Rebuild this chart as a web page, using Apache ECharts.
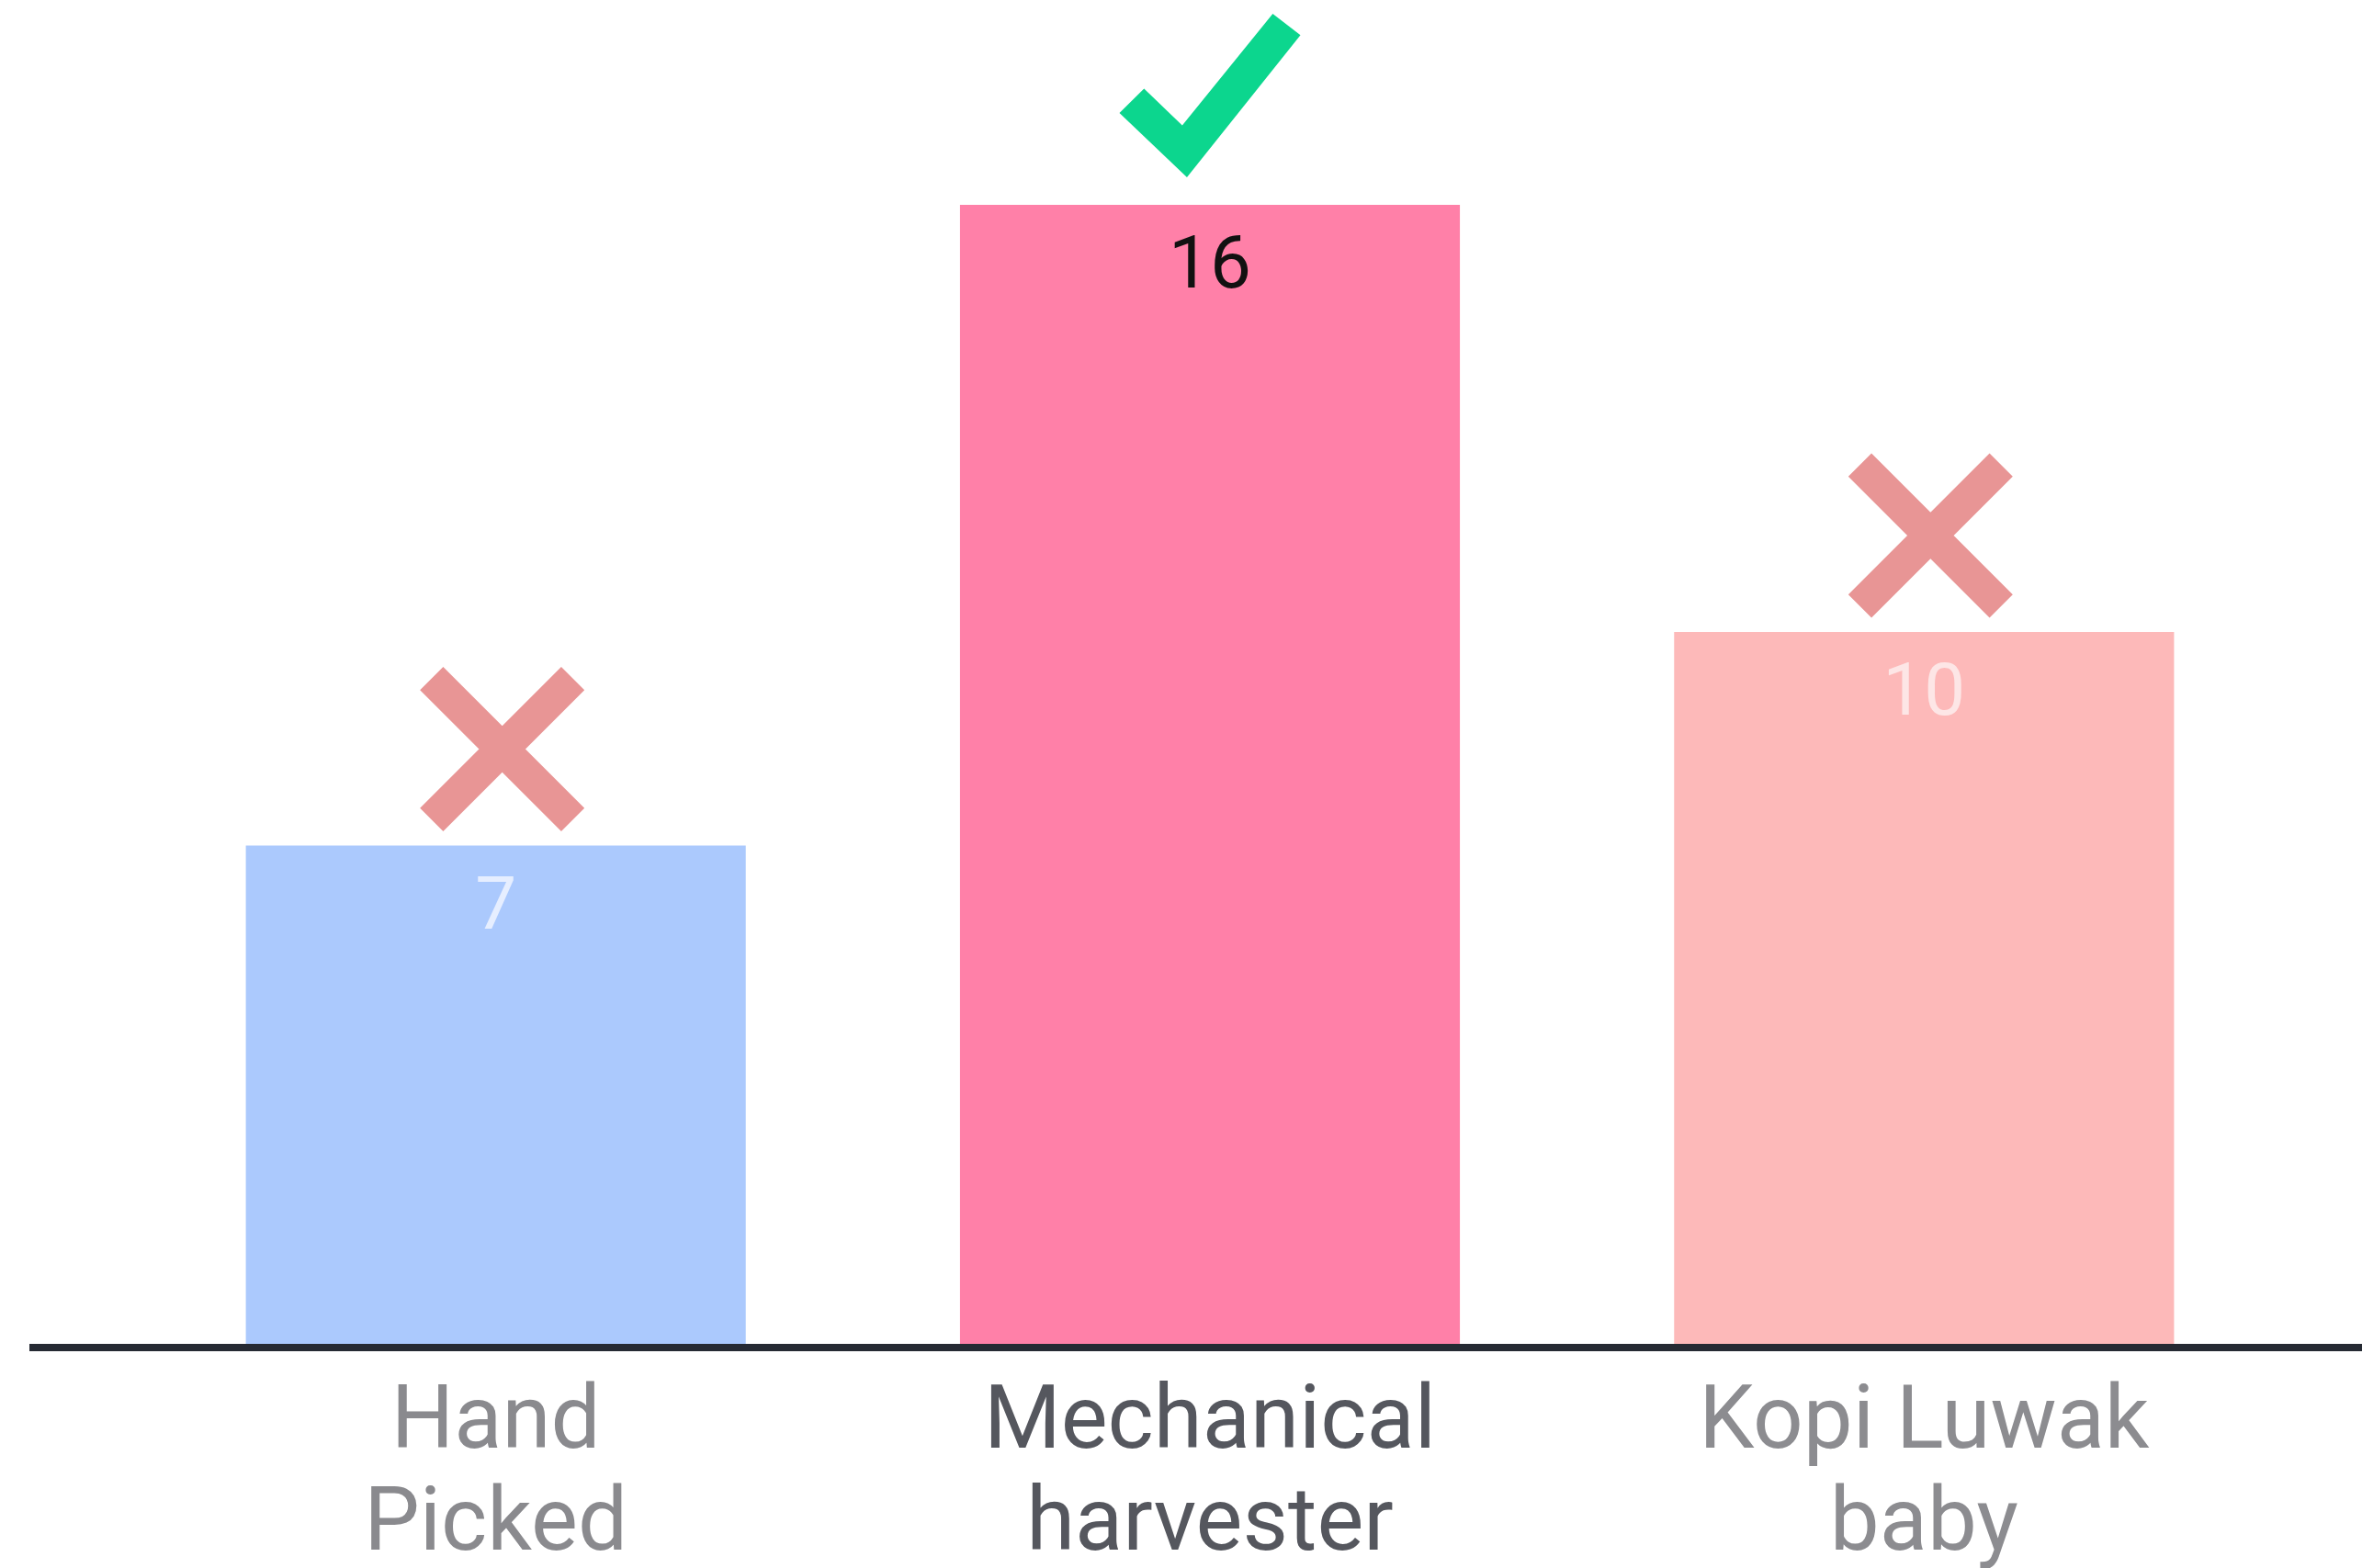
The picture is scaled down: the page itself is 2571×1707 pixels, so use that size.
<!DOCTYPE html>
<html>
<head>
<meta charset="utf-8">
<script src="https://cdn.jsdelivr.net/npm/echarts@6/dist/echarts.min.js"></script>
<style>
html,body{margin:0;padding:0;background:#fff;}
#chart{width:2571px;height:1707px;}
</style>
</head>
<body>
<div id="chart"></div>
<script>
// ---- data ----
const categories = ['Hand\nPicked', 'Mechanical\nharvester', 'Kopi Luwak\nbaby'];
const values = [7, 16, 10];
const verdicts = ['wrong', 'right', 'wrong'];

// ---- styles ----
const barColors = ['#abc9fd', '#ff80a8', '#fdb9b9'];
const valueLabelColors = ['#e6eeff', '#111111', '#fde6e6'];
const catLabelColors = ['#8a8a8e', '#55575e', '#8c8c90'];
const X_PATH = 'path://M0 14.1 L14.1 0 L100 85.9 L85.9 100 Z M85.9 0 L100 14.1 L14.1 100 L0 85.9 Z';
const CHECK_PATH = 'path://M0 60.7 L13.6 45.8 L34.7 68.2 L84.7 0 L100 13.1 L37.3 100 Z';

const chart = echarts.init(document.getElementById('chart'));

const barData = values.map((v, i) => ({
  value: v,
  itemStyle: { color: barColors[i] },
  label: { color: valueLabelColors[i] }
}));

const markData = values.map((v, i) => {
  const ok = verdicts[i] === 'right';
  return {
    value: [i, v],
    symbol: ok ? CHECK_PATH : X_PATH,
    symbolSize: ok ? [197, 178] : [179, 179],
    symbolOffset: ok ? [0, -119] : [7, -105],
    itemStyle: { color: ok ? '#0cd68e' : '#e89595', opacity: 1 }
  };
});

chart.setOption({
  animation: false,
  backgroundColor: '#ffffff',
  grid: { left: 151, right: 88, top: 223, bottom: 244, containLabel: false, outerBoundsMode: 'none' },
  xAxis: {
    type: 'category',
    data: categories,
    axisLine: { show: false },
    axisTick: { show: false },
    axisLabel: {
      margin: 33,
      fontFamily: 'Roboto',
      fontSize: 96,
      lineHeight: 111,
      color: (val, idx) => catLabelColors[idx]
    }
  },
  yAxis: {
    type: 'value',
    min: 0,
    max: 16,
    show: false,
    splitLine: { show: false }
  },
  series: [
    {
      type: 'bar',
      data: barData,
      barWidth: '70%',
      label: {
        show: true,
        position: 'insideTop',
        distance: 30,
        fontFamily: 'Roboto',
        fontSize: 80
      }
    },
    {
      type: 'scatter',
      data: markData,
      clip: false,
      z: 5
    }
  ],
  graphic: [
    {
      type: 'rect',
      shape: { x: 32, y: 1463, width: 2539, height: 8 },
      style: { fill: '#262a33' },
      z: 10
    }
  ]
});
</script>
</body>
</html>
